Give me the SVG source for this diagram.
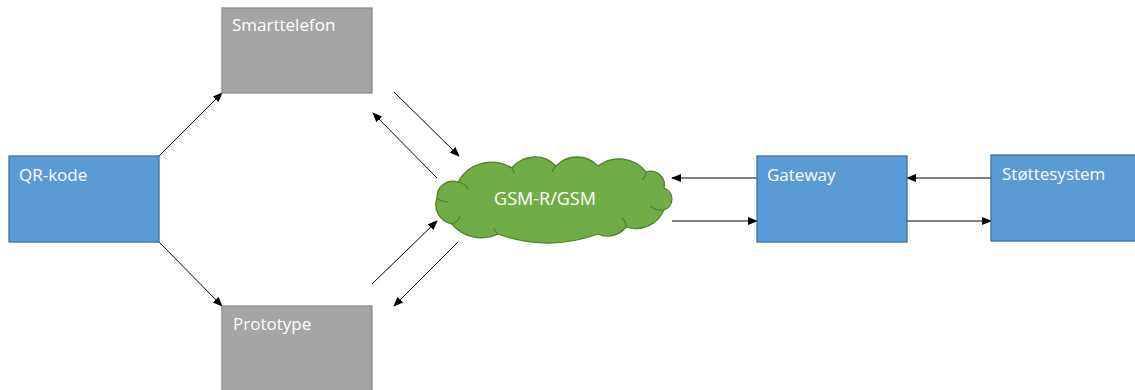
<svg xmlns="http://www.w3.org/2000/svg" width="1135" height="390" viewBox="0 0 1135 390">
<style>
.blue{fill:#5b9bd5;stroke:#41719c;stroke-width:1.3}
.grey{fill:#a5a5a5;stroke:#8c8c8c;stroke-width:1.3}
.cloud{fill:#70ad47;stroke:#507e32;stroke-width:1.3}
.lbl{font-family:"Open Sans","Liberation Sans",sans-serif;font-size:17px;fill:#ffffff}
.c line{stroke:#000;stroke-width:1;marker-end:url(#ah)}
</style>
<defs>
<marker id="ah" markerWidth="10" markerHeight="8" refX="9" refY="4" orient="auto" markerUnits="userSpaceOnUse">
<path d="M0,0 L10,4 L0,8 Z" fill="#000"/>
</marker>
</defs>
<rect width="1135" height="390" fill="#fff"/>
<g class="c">
<line x1="159" y1="156" x2="222" y2="93"/>
<line x1="159" y1="242" x2="222" y2="306"/>
<line x1="394" y1="92" x2="459" y2="156"/>
<line x1="437" y1="178" x2="373" y2="113"/>
<line x1="372" y1="284" x2="437" y2="221"/>
<line x1="458" y1="242" x2="394" y2="306"/>
<line x1="757" y1="178" x2="672" y2="178"/>
<line x1="672" y1="221" x2="757" y2="221"/>
<line x1="991" y1="178" x2="907" y2="178"/>
<line x1="907" y1="221" x2="991" y2="221"/>
</g>
<g id="qr"><rect class="blue" x="9" y="156" width="150" height="86"/><text class="lbl" x="19" y="181">QR-kode</text></g>
<g id="smart"><rect class="grey" x="222" y="8" width="150" height="85"/><text class="lbl" x="232" y="31">Smarttelefon</text></g>
<g id="proto"><rect class="grey" x="222" y="306" width="150" height="90"/><text class="lbl" x="233" y="330">Prototype</text></g>
<g id="cloud">
<path class="cloud" d="M437,198 A15.9,15.9 0 0 1 458,182 A38.4,38.4 0 0 1 512,168 A29.2,29.2 0 0 1 556,166 A29,29 0 0 1 598,166 A34.3,34.3 0 0 1 646,172 A13.8,13.8 0 0 1 664,188 A11.6,11.6 0 0 1 664,210 A31,31 0 0 1 626,227 A23.2,23.2 0 0 1 598,234 A143,143 0 0 1 498,234 A38.5,38.5 0 0 1 452,224 A19.6,19.6 0 0 1 437,198 Z"/>
<path d="M458,182 A14,12 0 0 1 468,189 M512,168 A16,14 0 0 1 514,174 M556,166 A12,12 0 0 0 552,172 M646,172 A14,12 0 0 1 642,180 M664,210 A16,12 0 0 1 650,206 M626,227 A14,12 0 0 0 622,218 M498,234 A12,10 0 0 1 494,228 M452,224 A12,10 0 0 0 460,216 M437,198 A14,10 0 0 0 448,202" fill="none" stroke="#507e32" stroke-width="1.1"/>
<text class="lbl" x="545" y="205" text-anchor="middle" style="font-size:18px">GSM-R/GSM</text>
</g>
<g id="gateway"><rect class="blue" x="757" y="156" width="150" height="86"/><text class="lbl" x="767" y="181">Gateway</text></g>
<g id="stotte"><rect class="blue" x="991" y="155" width="150" height="86"/><text class="lbl" x="1002" y="180">Støttesystem</text></g>
</svg>
